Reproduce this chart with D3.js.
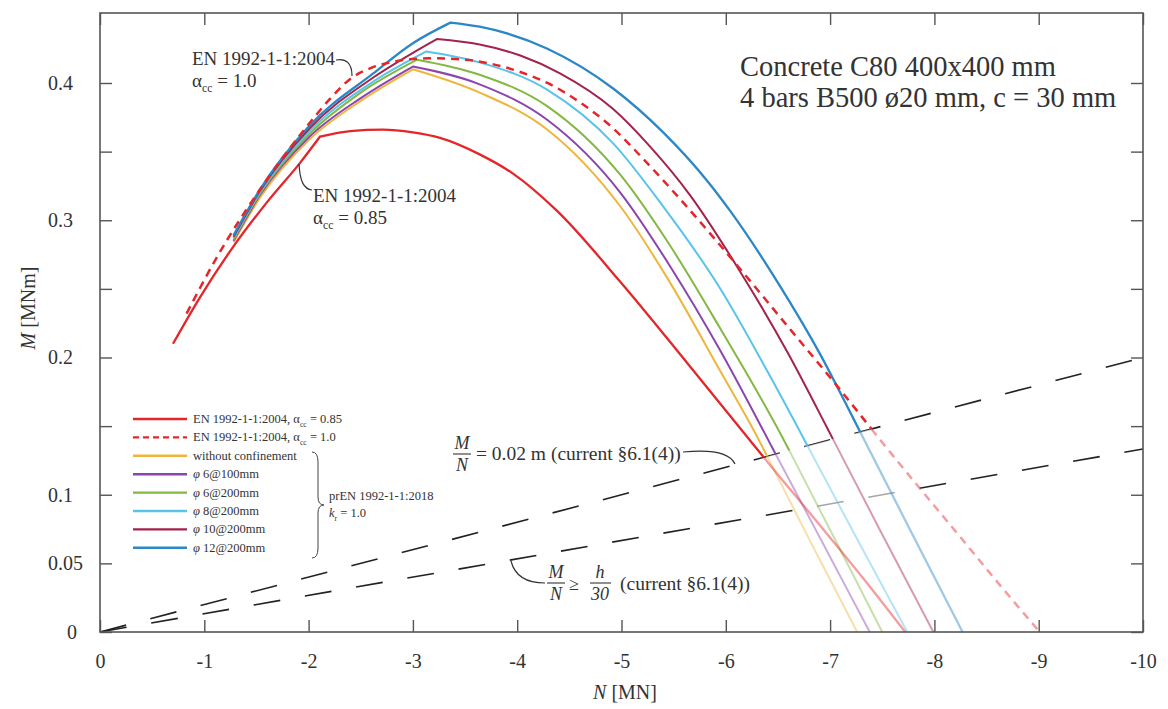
<!DOCTYPE html>
<html>
<head>
<meta charset="utf-8">
<script src="https://cdn.jsdelivr.net/npm/d3@7"></script>
<style>
  body { margin: 0; background: #fff; }
  text { font-family: "Liberation Serif", "Times New Roman", serif; fill: #333; }
</style>
</head>
<body>
<div id="chart"></div>
<script>
// N [MN], M [MNm]
const ec2Alpha085 = [[-0.70,0.210],[-0.96,0.244],[-1.28,0.281],[-1.60,0.313],[-1.92,0.342],[-2.11,0.361],
  [-2.40,0.365],[-2.71,0.366],[-3.00,0.364],[-3.26,0.360],[-3.64,0.348],[-3.96,0.334],[-4.38,0.307],
  [-4.99,0.255],[-5.63,0.196],[-6.26,0.137],[-6.42,0.122],[-6.90,0.078],[-7.34,0.037],[-7.72,0]];
const ec2Alpha10 = [[-0.83,0.232],[-1.12,0.273],[-1.53,0.322],[-1.98,0.368],[-2.20,0.388],[-2.40,0.403],
  [-2.60,0.411],[-2.85,0.416],[-3.15,0.418],[-3.50,0.417],[-3.75,0.414],[-4.03,0.408],[-4.29,0.400],
  [-4.60,0.386],[-4.92,0.367],[-5.18,0.347],[-5.59,0.313],[-6.11,0.267],[-6.59,0.223],[-7.07,0.179],
  [-7.48,0.140],[-8.25,0.069],[-8.63,0.034],[-9.01,0]];
const noConfinement = [[-1.28,0.284],[-1.53,0.316],[-2.01,0.359],[-2.50,0.387],[-3.00,0.410],
  [-3.64,0.393],[-4.29,0.366],[-4.99,0.310],[-5.47,0.254],[-5.94,0.191],[-6.33,0.138],[-6.81,0.066],[-7.26,0]];
const phi6at100 = [[-1.28,0.285],[-1.53,0.318],[-2.01,0.361],[-2.50,0.389],[-3.00,0.412],
  [-3.64,0.399],[-4.29,0.373],[-4.99,0.320],[-5.47,0.266],[-5.94,0.206],[-6.42,0.138],[-6.90,0.069],[-7.38,0]];
const phi6at200 = [[-1.28,0.286],[-1.53,0.319],[-2.01,0.363],[-2.50,0.393],[-3.04,0.417],
  [-3.64,0.406],[-4.29,0.383],[-4.99,0.333],[-5.47,0.281],[-5.94,0.222],[-6.59,0.135],[-7.05,0.067],[-7.50,0]];
const phi8at200 = [[-1.28,0.287],[-1.53,0.320],[-2.01,0.365],[-2.62,0.401],[-3.13,0.423],
  [-3.64,0.415],[-4.29,0.395],[-4.92,0.356],[-5.39,0.311],[-5.94,0.251],[-6.42,0.187],[-6.76,0.139],
  [-7.25,0.069],[-7.74,0]];
const phi10at200 = [[-1.28,0.288],[-1.53,0.321],[-2.01,0.367],[-2.62,0.404],[-3.00,0.422],[-3.23,0.432],
  [-3.64,0.428],[-4.03,0.420],[-4.41,0.407],[-4.92,0.381],[-5.27,0.354],[-5.66,0.318],[-6.11,0.266],
  [-6.59,0.204],[-6.97,0.149],[-7.48,0.074],[-7.99,0]];
const phi12at200 = [[-1.28,0.289],[-1.53,0.322],[-2.01,0.369],[-2.62,0.407],[-3.00,0.429],[-3.36,0.444],
  [-3.64,0.441],[-4.29,0.425],[-4.92,0.396],[-5.40,0.364],[-5.84,0.327],[-6.04,0.307],[-6.52,0.252],
  [-6.90,0.203],[-7.22,0.156],[-7.77,0.074],[-8.27,0]];

// eccentricity limits M/N: 0.02 m and h/30 with h = 0.4 m
const eccentricities = [0.02, 0.4 / 30];

const xTicks = d3.range(0, -11, -1);
const yTicks = [0, 0.05, 0.1, 0.15, 0.2, 0.25, 0.3, 0.35, 0.4];
const yTickLabels = [0, 0.05, 0.1, 0.2, 0.3, 0.4];

const W = 1168, H = 709;
const svg = d3.select("#chart").append("svg").attr("width", W).attr("height", H);

const x = d3.scaleLinear().domain([0, -10]).range([100, 1143]);
const y = d3.scaleLinear().domain([0, 0.451]).range([632, 13]);

const line = d3.line().x(d => x(d[0])).y(d => y(d[1])).curve(d3.curveMonotoneX);

// sharp corner at the kink, smooth elsewhere
function curvePath(data, kink) {
  const k = kink == null ? -1 : data.findIndex(d => d[0] === kink);
  if (k < 0) return line(data);
  return line(data.slice(0, k + 1)) + line(data.slice(k)).replace(/^M/, "L");
}

// where a curve drops below M = e*|N|
function crossing(data, e) {
  for (let i = 1; i < data.length; i++) {
    const a = data[i - 1], b = data[i];
    const fa = a[1] + e * a[0], fb = b[1] + e * b[0];
    if (fa >= 0 && fb < 0) {
      const t = fa / (fa - fb);
      return { i, p: [a[0] + t * (b[0] - a[0]), a[1] + t * (b[1] - a[1])] };
    }
  }
}

// eccentricity lines
svg.selectAll(".ecc")
  .data(eccentricities)
  .enter().append("line")
  .attr("x1", x(0)).attr("y1", y(0))
  .attr("x2", x(-10)).attr("y2", e => y(e * 10))
  .attr("stroke", "#222").attr("stroke-width", 1.6)
  .attr("stroke-dasharray", "27,25");

// the eccentricity lines are faded inside the region under M/N = 0.02 m
const inner = crossing(noConfinement, eccentricities[0]);
const outer = crossing(ec2Alpha10, eccentricities[0]);
const fadePts = [inner.p].concat(noConfinement.slice(inner.i))
  .concat(ec2Alpha10.slice(outer.i).reverse()).concat([outer.p]);
svg.append("path")
  .attr("d", d3.line().x(d => x(d[0])).y(d => y(d[1]))(fadePts) + "Z")
  .attr("fill", "#fff").attr("fill-opacity", 0.6);

const series = [
  { data: noConfinement, color: "#efb53c", kink: -3.00, w: 2 },
  { data: phi6at100, color: "#8c45ad", kink: -3.00, w: 2 },
  { data: phi6at200, color: "#83b843", kink: -3.04, w: 2 },
  { data: phi8at200, color: "#58c4ea", kink: -3.13, w: 2 },
  { data: phi10at200, color: "#a3234a", kink: -3.23, w: 2 },
  { data: phi12at200, color: "#2b87c6", kink: -3.36, w: 2.3 },
  { data: ec2Alpha085, color: "#e4262a", kink: -2.11, w: 2.3 },
  { data: ec2Alpha10, color: "#e4262a", kink: null, w: 2.5, dash: "8,6" }
];

// solid part above M/N = 0.02 m, pale tail below it
series.forEach(s => {
  const c = crossing(s.data, eccentricities[0]);
  const head = s.data.slice(0, c.i).concat([c.p]);
  const tail = [c.p].concat(s.data.slice(c.i));
  svg.append("path")
    .attr("d", line(tail))
    .attr("fill", "none").attr("stroke", s.color).attr("stroke-opacity", 0.45)
    .attr("stroke-width", s.w).attr("stroke-dasharray", s.dash || null);
  svg.append("path")
    .attr("d", curvePath(head, s.kink))
    .attr("fill", "none").attr("stroke", s.color)
    .attr("stroke-width", s.w).attr("stroke-dasharray", s.dash || null);
});

// frame and ticks
const axisColor = "#555";
function styleAxis(g) {
  g.select(".domain").remove();
  g.selectAll("line").attr("stroke", axisColor).attr("stroke-width", 1.4);
  g.attr("font-family", null).attr("font-size", 20);
  g.selectAll("text").attr("fill", "#333");
}
svg.append("g").attr("transform", "translate(0,632)")
  .call(d3.axisBottom(x).tickValues(xTicks).tickSize(-12).tickPadding(22)
    .tickFormat(d => d === 0 ? "0" : "-" + (-d)))
  .call(styleAxis);
svg.append("g").attr("transform", "translate(0,13)")
  .call(d3.axisTop(x).tickValues(xTicks).tickSize(-12).tickFormat(""))
  .call(styleAxis);
const gl = svg.append("g").attr("transform", "translate(100,0)")
  .call(d3.axisLeft(y).tickValues(yTicks).tickSize(-12)
    .tickFormat(d => yTickLabels.includes(d) ? String(d) : ""))
  .call(styleAxis);
gl.selectAll("text")
  .attr("text-anchor", d => d === 0 ? "middle" : "start")
  .attr("x", d => d === 0 ? -28 : -52);
svg.append("g").attr("transform", "translate(1143,0)")
  .call(d3.axisRight(y).tickValues(yTicks).tickSize(-12).tickFormat(""))
  .call(styleAxis);
svg.append("rect")
  .attr("x", 100).attr("y", 13).attr("width", 1043).attr("height", 619)
  .attr("fill", "none").attr("stroke", axisColor).attr("stroke-width", 1.6);

// axis titles
const xt = svg.append("text").attr("x", 625).attr("y", 699).attr("text-anchor", "middle").attr("font-size", 20);
xt.append("tspan").attr("font-style", "italic").text("N");
xt.append("tspan").text(" [MN]");
const yt = svg.append("text").attr("transform", "translate(35,308) rotate(-90)")
  .attr("text-anchor", "middle").attr("font-size", 20);
yt.append("tspan").attr("font-style", "italic").text("M");
yt.append("tspan").text(" [MNm]");

// rich text helper: parts of {t, sub, it}
function rich(px, py, size, parts) {
  const t = svg.append("text").attr("x", px).attr("y", py).attr("font-size", size);
  let shifted = false;
  parts.forEach(p => {
    const s = t.append("tspan").text(p.t);
    if (p.it) s.attr("font-style", "italic");
    if (p.sub) { s.attr("font-size", size * 0.62).attr("dy", size * 0.28); shifted = true; }
    else if (shifted) { s.attr("dy", -size * 0.28); shifted = false; }
  });
  return t;
}

// top right caption
svg.append("text").attr("x", 740).attr("y", 76).attr("font-size", 28.5).text("Concrete C80 400x400 mm");
svg.append("text").attr("x", 740).attr("y", 107).attr("font-size", 28.5).text("4 bars B500 ø20 mm, c = 30 mm");

// curve annotations
svg.append("text").attr("x", 192).attr("y", 65).attr("font-size", 19).text("EN 1992-1-1:2004");
rich(192, 87, 19, [{ t: "α" }, { t: "cc", sub: true }, { t: " = 1.0" }]);
svg.append("text").attr("x", 313).attr("y", 202).attr("font-size", 19).text("EN 1992-1-1:2004");
rich(313, 224, 19, [{ t: "α" }, { t: "cc", sub: true }, { t: " = 0.85" }]);

const leaders = [
  "M336,60 C346,58 352,63 352,76",
  "M312,190 C304,189 300,182 299,164",
  "M683,452 C713,449 730,453 735,464",
  "M545,583 C527,583 515,577 511,561"
];
svg.selectAll(".leader").data(leaders).enter().append("path")
  .attr("d", d => d).attr("fill", "none").attr("stroke", "#333").attr("stroke-width", 1.2);

// M/N = 0.02 m
svg.append("text").attr("x", 462).attr("y", 449).attr("font-size", 18).attr("text-anchor", "middle")
  .attr("font-style", "italic").text("M");
svg.append("line").attr("x1", 453).attr("x2", 471).attr("y1", 454).attr("y2", 454).attr("stroke", "#333").attr("stroke-width", 1.1);
svg.append("text").attr("x", 462).attr("y", 471).attr("font-size", 18).attr("text-anchor", "middle")
  .attr("font-style", "italic").text("N");
svg.append("text").attr("x", 476).attr("y", 460).attr("font-size", 19.5).text("= 0.02 m (current §6.1(4))");

// M/N >= h/30
svg.append("text").attr("x", 556).attr("y", 578).attr("font-size", 18).attr("text-anchor", "middle")
  .attr("font-style", "italic").text("M");
svg.append("line").attr("x1", 547).attr("x2", 565).attr("y1", 583).attr("y2", 583).attr("stroke", "#333").attr("stroke-width", 1.1);
svg.append("text").attr("x", 556).attr("y", 600).attr("font-size", 18).attr("text-anchor", "middle")
  .attr("font-style", "italic").text("N");
svg.append("text").attr("x", 574).attr("y", 590).attr("font-size", 18).attr("text-anchor", "middle").text("≥");
svg.append("text").attr("x", 600).attr("y", 578).attr("font-size", 18).attr("text-anchor", "middle")
  .attr("font-style", "italic").text("h");
svg.append("line").attr("x1", 590).attr("x2", 611).attr("y1", 583).attr("y2", 583).attr("stroke", "#333").attr("stroke-width", 1.1);
svg.append("text").attr("x", 600).attr("y", 600).attr("font-size", 18).attr("text-anchor", "middle")
  .attr("font-style", "italic").text("30");
svg.append("text").attr("x", 620).attr("y", 590).attr("font-size", 19.5).text("(current §6.1(4))");

// legend
const legendItems = [
  { color: "#e4262a", parts: [{ t: "EN 1992-1-1:2004, α" }, { t: "cc", sub: true }, { t: " = 0.85" }] },
  { color: "#e4262a", dash: "6,4", parts: [{ t: "EN 1992-1-1:2004, α" }, { t: "cc", sub: true }, { t: " = 1.0" }] },
  { color: "#efb53c", parts: [{ t: "without confinement" }] },
  { color: "#8c45ad", parts: [{ t: "φ", it: true }, { t: " 6@100mm" }] },
  { color: "#83b843", parts: [{ t: "φ", it: true }, { t: " 6@200mm" }] },
  { color: "#58c4ea", parts: [{ t: "φ", it: true }, { t: " 8@200mm" }] },
  { color: "#a3234a", parts: [{ t: "φ", it: true }, { t: " 10@200mm" }] },
  { color: "#2b87c6", parts: [{ t: "φ", it: true }, { t: " 12@200mm" }] }
];
legendItems.forEach((it, i) => {
  const ly = 419 + i * 18.4;
  svg.append("line").attr("x1", 133).attr("x2", 187).attr("y1", ly).attr("y2", ly)
    .attr("stroke", it.color).attr("stroke-width", 2.4).attr("stroke-dasharray", it.dash || null);
  rich(193, ly + 4, 12.5, it.parts);
});
svg.append("path")
  .attr("d", "M312,452 Q318,452 318,462 L318,497 Q318,505 324,505 Q318,505 318,513 L318,548 Q318,558 312,558")
  .attr("fill", "none").attr("stroke", "#444").attr("stroke-width", 1);
svg.append("text").attr("x", 329).attr("y", 500).attr("font-size", 12.5).text("prEN 1992-1-1:2018");
rich(329, 517, 12.5, [{ t: "k", it: true }, { t: "r", sub: true }, { t: " = 1.0" }]);
</script>
</body>
</html>
